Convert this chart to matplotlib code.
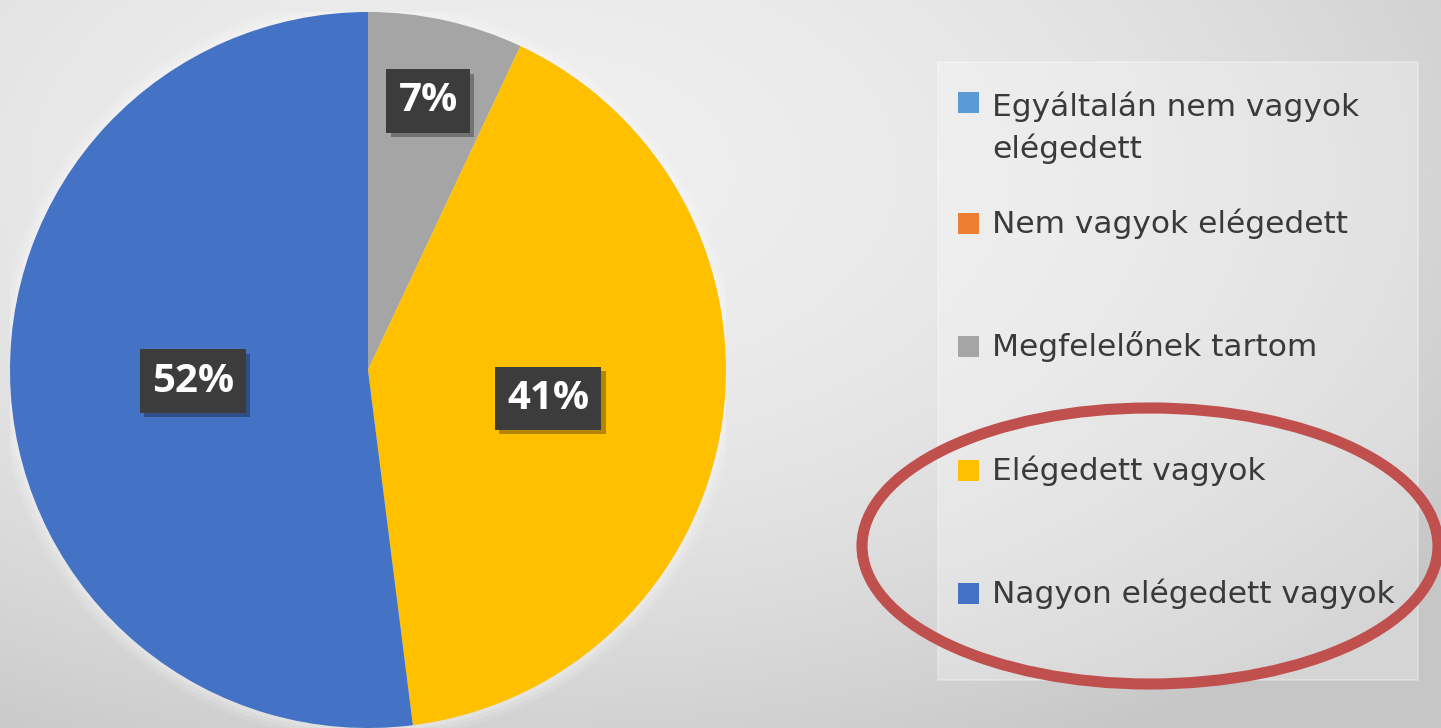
import numpy as np
import matplotlib
matplotlib.use("Agg")
import matplotlib.pyplot as plt
from matplotlib.patches import Rectangle, Ellipse, Circle
import matplotlib.patheffects as pe

# Survey answers (order = slice order, clockwise from 12 o'clock)
categories = ["Egyáltalán nem vagyok elégedett", "Nem vagyok elégedett",
              "Megfelelőnek tartom", "Elégedett vagyok", "Nagyon elégedett vagyok"]
legend_labels = ["Egyáltalán nem vagyok\nelégedett", "Nem vagyok elégedett",
                 "Megfelelőnek tartom", "Elégedett vagyok", "Nagyon elégedett vagyok"]
shares = [0, 0, 7, 41, 52]
colors = ["#5B9BD5", "#ED7D31", "#A5A5A5", "#FFC000", "#4472C4"]

W, H = 1441, 728
LABEL_FONT = "Open Sans"
LEGEND_FONT = "DejaVu Sans"

fig = plt.figure(figsize=(W / 100, H / 100), dpi=100)

# soft grey backdrop, lighter towards upper left
bg = fig.add_axes([0, 0, 1, 1], zorder=0)
yy, xx = np.mgrid[0:H, 0:W]
dx = (xx - 520) / W
dy = (yy - 170) / H
val = np.clip(0.935 - 0.25 * dx ** 2 - 0.19 * dy ** 2, 0.78, 1.0)
bg.imshow(np.dstack([val] * 3), extent=(0, W, H, 0), aspect="auto",
          interpolation="bilinear")
bg.set_xlim(0, W)
bg.set_ylim(H, 0)
bg.axis("off")

# pie
ax = fig.add_axes([10 / W, 0, 716 / W, 716 / H], zorder=2)
ax.set_facecolor("none")
# faint glow around the disc
for k, a in enumerate([0.10, 0.14, 0.18]):
    ax.add_patch(Circle((0, 0), 1.035 - 0.012 * k, facecolor="white", alpha=a,
                        edgecolor="none", zorder=0))
wedges, _ = ax.pie(shares, colors=colors, startangle=90, counterclock=False,
                   radius=1.0, wedgeprops=dict(linewidth=0, zorder=1))
ax.set_xlim(-1, 1)
ax.set_ylim(-1, 1)
ax.set_aspect("equal")

label_radius = [0.0, 0.0, 0.77, 0.51, 0.49]
for w, v, r in zip(wedges, shares, label_radius):
    if v == 0:
        continue
    th = np.deg2rad((w.theta1 + w.theta2) / 2)
    t = ax.text(r * np.cos(th), r * np.sin(th), f"{v}%", ha="center", va="center",
                fontsize=29, fontweight="bold", color="white", family=LABEL_FONT,
                zorder=5,
                bbox=dict(boxstyle="square,pad=0.3", fc="#3c3c3c", ec="none"))
    t.get_bbox_patch().set_path_effects(
        [pe.SimplePatchShadow(offset=(3, -3), shadow_rgbFace="black", alpha=0.3),
         pe.Normal()])

# legend panel
bg.add_patch(Rectangle((938, 62), 480, 618, facecolor="white", alpha=0.28,
                       edgecolor="white", lw=1.5, zorder=1))
marker_y = [102, 223, 346, 470, 593]
text_y = [158, 233, 356, 480, 603]
for lab, col, ym, yt in zip(legend_labels, colors, marker_y, text_y):
    bg.add_patch(Rectangle((958, ym - 10), 21, 21, facecolor=col, edgecolor="none",
                           zorder=3))
    bg.text(992, yt, lab, ha="left", va="baseline", fontsize=22.5, color="#3a3a3a",
            family=LEGEND_FONT, linespacing=1.48, zorder=3)

# highlight ring around the two top answers
bg.add_patch(Ellipse((1150, 546), 576, 276, fill=False, edgecolor="#C0504D",
                     lw=8, zorder=4))

# start of the caption below the chart
bg.text(44, 740, "Á", ha="left", va="top", fontsize=26, fontweight="bold",
        color="black", family=LABEL_FONT, zorder=3)

fig.savefig("out.png", dpi=100)
